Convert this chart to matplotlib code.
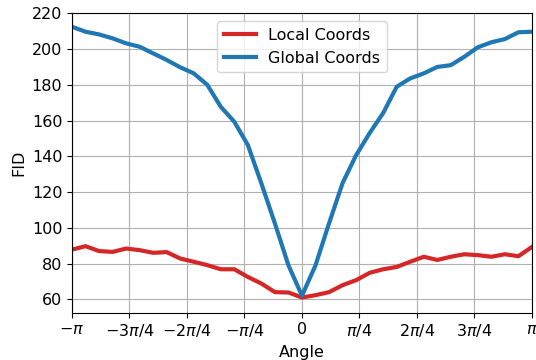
import numpy as np
import matplotlib
matplotlib.use("Agg")
import matplotlib.pyplot as plt

# FID per rotation angle, sampled over [-pi, pi]
local_fid = [87.8, 89.7, 87.0, 86.5, 88.4, 87.5, 86.0, 86.4, 82.8, 81.0,
             79.1, 76.8, 76.8, 72.5, 68.8, 64.0, 63.8, 61.0,
             62.3, 64.0, 67.9, 70.7, 74.8, 76.8, 78.1, 81.0, 83.8,
             82.0, 83.8, 85.2, 84.7, 83.8, 85.2, 84.1, 89.3]
global_fid = [212.5, 209.7, 208.2, 206.0, 203.2, 201.3, 197.6, 193.9, 189.8, 186.4,
              180.0, 167.7, 159.3, 146.3, 124.8, 102.4, 79.0, 62.0,
              79.0, 102.5, 125.0, 140.6, 153.0, 164.2, 178.9, 183.6, 186.4,
              190.0, 191.0, 195.7, 201.0, 203.8, 205.6, 209.4, 209.7]
angles = np.linspace(-np.pi, np.pi, len(local_fid))

tick_pos = np.arange(-4, 5) * np.pi / 4
tick_labels = [r"$-\pi$", r"$-3\pi/4$", r"$-2\pi/4$", r"$-\pi/4$", "0",
               r"$\pi/4$", r"$2\pi/4$", r"$3\pi/4$", r"$\pi$"]

plt.rcParams["font.size"] = 11.5

fig = plt.figure(figsize=(5.36, 3.6), dpi=100)
ax = fig.add_axes([0.1343, 0.1314, 0.8582, 0.8316])
ax.plot(angles, local_fid, color="#d62728", lw=3, label="Local Coords")
ax.plot(angles, global_fid, color="#1f77b4", lw=3, label="Global Coords")
ax.set_xlim(-np.pi, np.pi)
ax.set_ylim(52.5, 220)
ax.set_yticks(np.arange(60, 221, 20))
ax.set_xticks(tick_pos)
ax.set_xticklabels(tick_labels)
ax.grid(True)
ax.set_xlabel("Angle")
ax.set_ylabel("FID")
ax.legend(loc="upper center")
fig.savefig("out.png")
